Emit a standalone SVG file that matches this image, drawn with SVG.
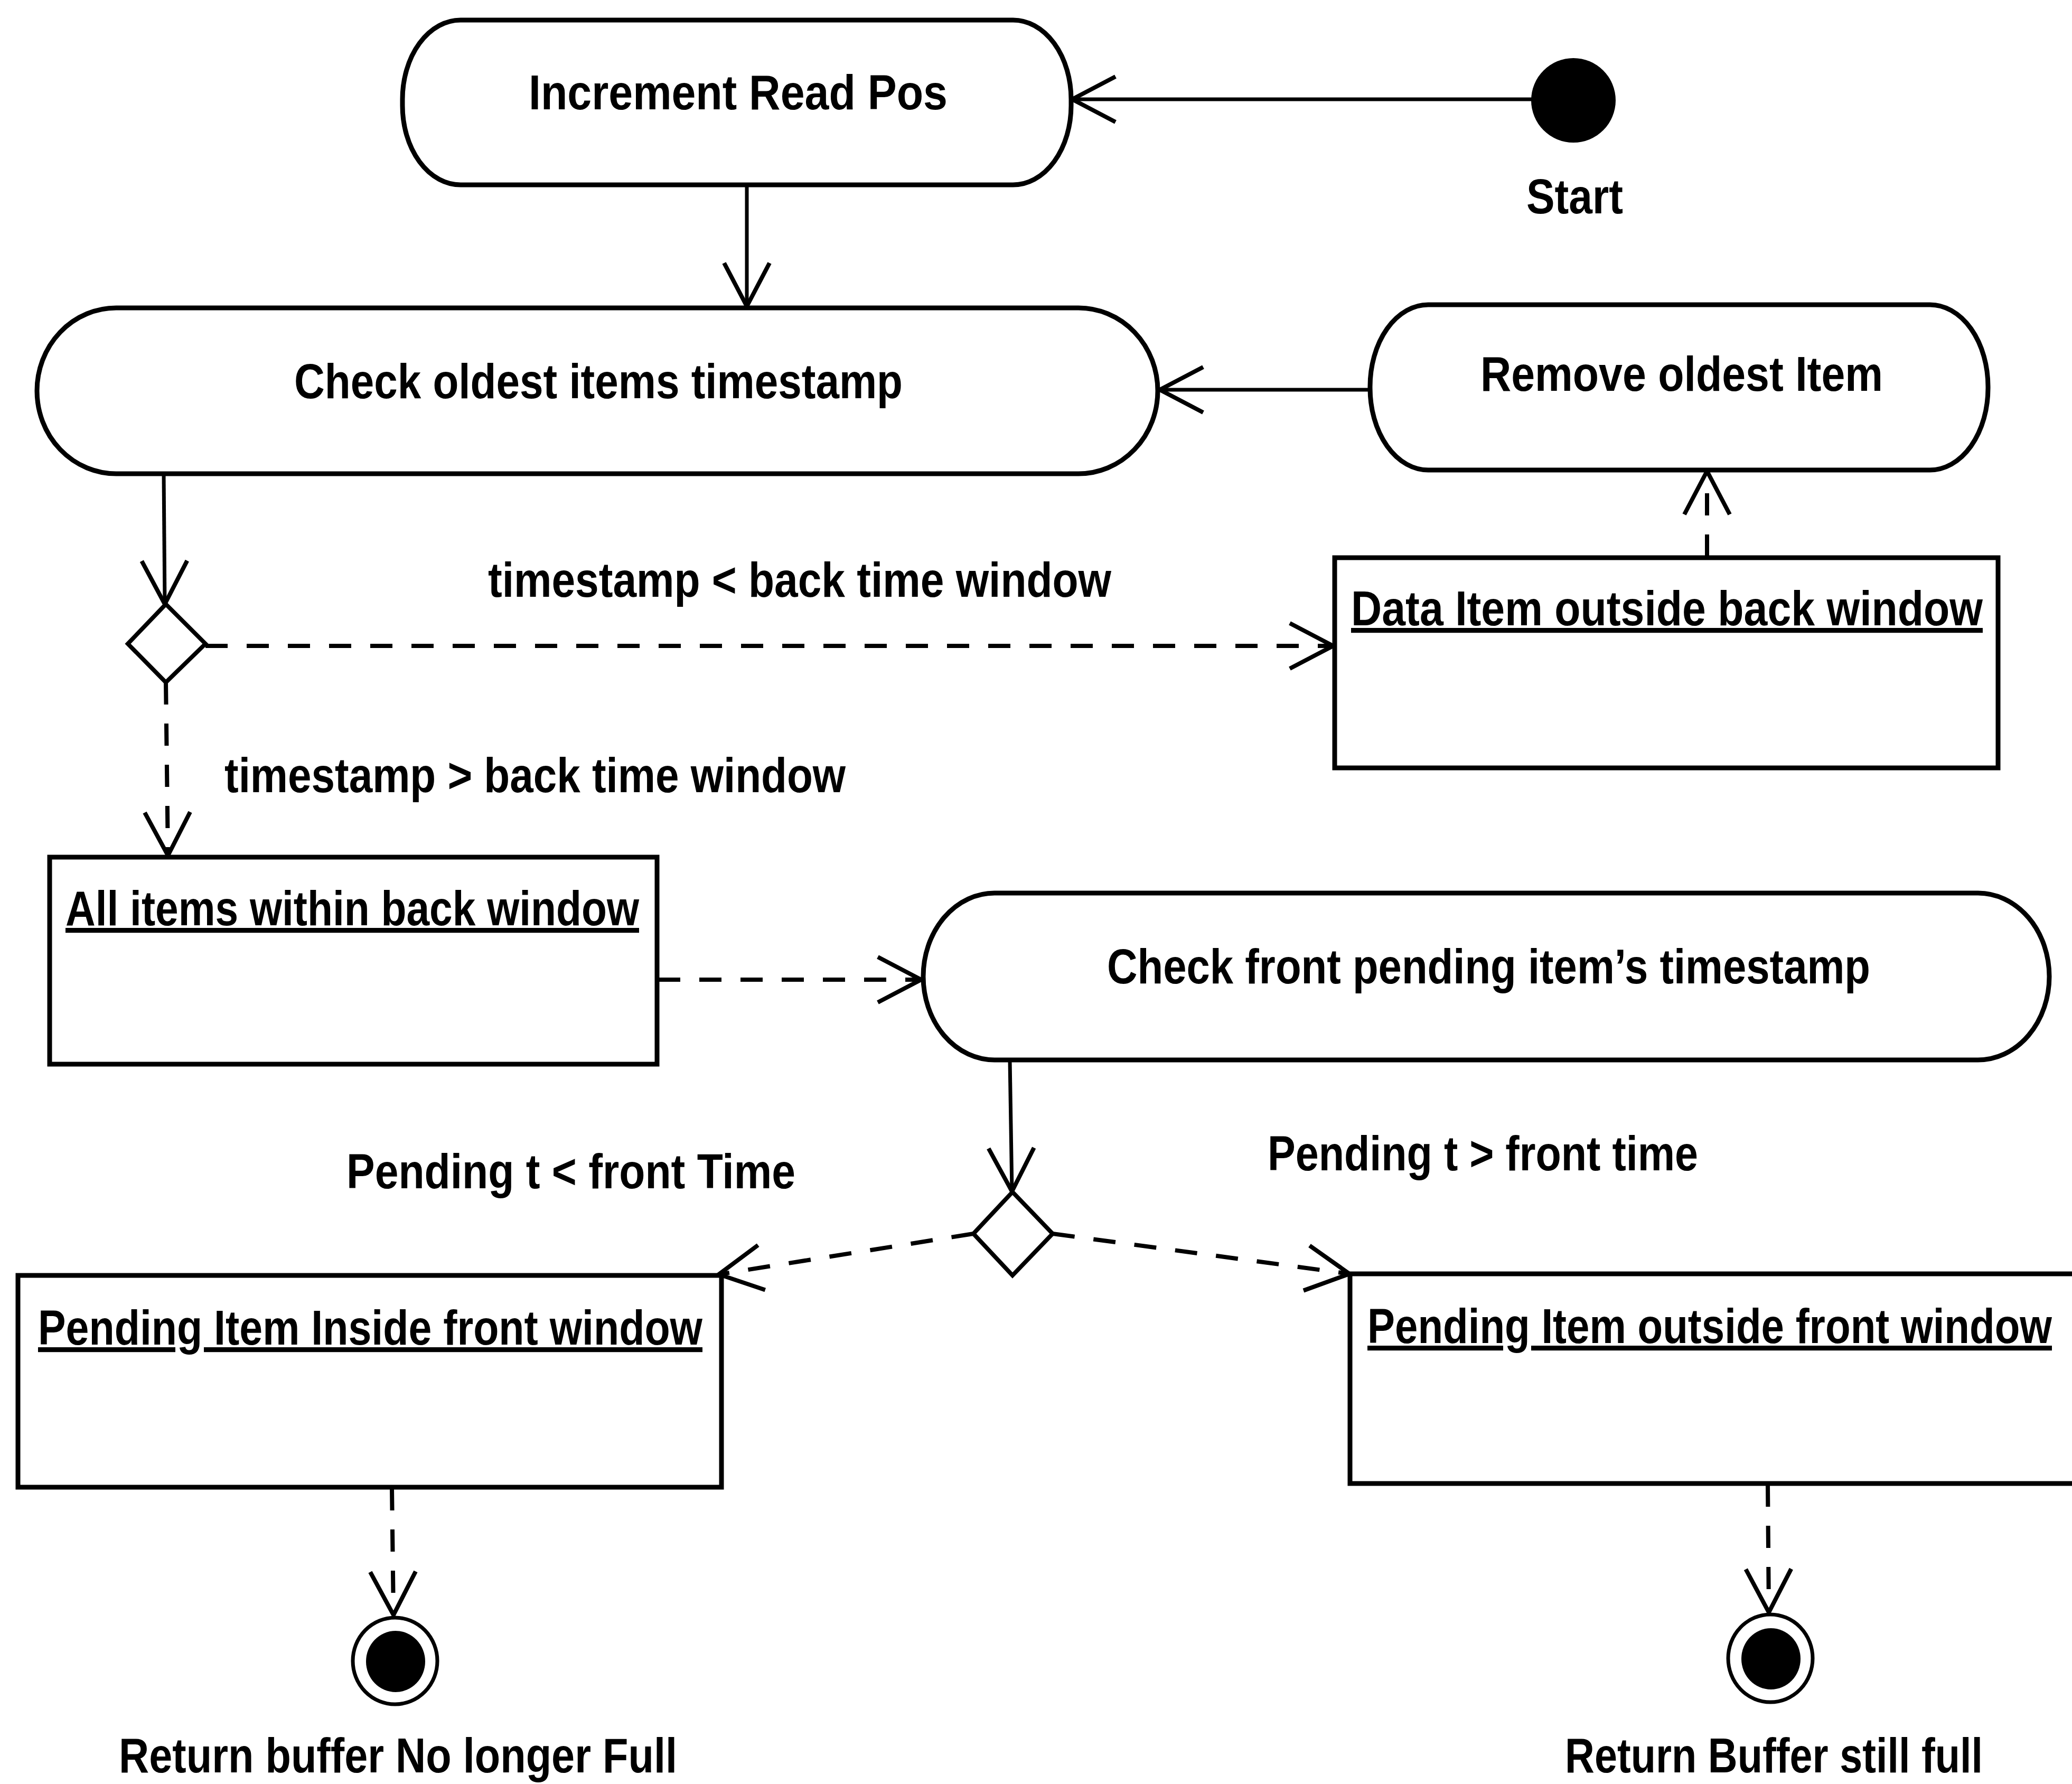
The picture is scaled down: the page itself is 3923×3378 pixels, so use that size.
<svg xmlns="http://www.w3.org/2000/svg" width="3923" height="3378" viewBox="0 0 3923 3378">
  <style>
    .bg { fill: #ffffff; }
    .action { fill: #ffffff; stroke: #000000; stroke-width: 9; }
    .object { fill: #ffffff; stroke: #000000; stroke-width: 9; }
    .decision { fill: #ffffff; stroke: #000000; stroke-width: 8; stroke-linejoin: miter; }
    .flow { fill: none; stroke: #000000; stroke-width: 7; }
    .dep { fill: none; stroke: #000000; stroke-width: 8; stroke-dasharray: 42 36; }
    .label { font-family: "Liberation Sans", Arial, sans-serif; font-weight: bold; font-size: 92px; fill: #000000; }
    .objlabel { text-decoration: underline; }
    .dot { fill: #000000; }
    .ring { fill: #ffffff; stroke: #000000; stroke-width: 7; }
  </style>
  <defs>
    <marker id="open" markerUnits="userSpaceOnUse" viewBox="-95 -55 105 110" markerWidth="105" markerHeight="110" refX="0" refY="0" orient="auto">
      <path d="M-82,-43 L0,0 L-82,43" fill="none" stroke="#000000" stroke-width="8" stroke-linejoin="miter"/>
    </marker>
  </defs>

  <rect class="bg" x="0" y="0" width="3923" height="3378"/>

  <!-- transitions and object flows -->
  <g id="connectors">
    <line class="flow" x1="2900" y1="188" x2="2030" y2="188" marker-end="url(#open)"/>
    <line class="flow" x1="1414" y1="350" x2="1414" y2="580" marker-end="url(#open)"/>
    <line class="flow" x1="2594" y1="738" x2="2196" y2="738" marker-end="url(#open)"/>
    <line class="flow" x1="310" y1="897" x2="312" y2="1144" marker-end="url(#open)"/>
    <line class="dep" x1="389" y1="1223" x2="2524" y2="1223" marker-end="url(#open)"/>
    <line class="dep" x1="3232" y1="1054" x2="3232" y2="892" marker-end="url(#open)"/>
    <line class="dep" x1="314" y1="1292" x2="318" y2="1620" marker-end="url(#open)"/>
    <line class="dep" x1="1246" y1="1855" x2="1744" y2="1855" marker-end="url(#open)"/>
    <line class="flow" x1="1912" y1="2007" x2="1916" y2="2256" marker-end="url(#open)"/>
    <line class="dep" x1="1843" y1="2336" x2="1361" y2="2413" marker-end="url(#open)"/>
    <line class="dep" x1="1993" y1="2336" x2="2555" y2="2412" marker-end="url(#open)"/>
    <line class="dep" x1="742" y1="2818" x2="745" y2="3058" marker-end="url(#open)"/>
    <line class="dep" x1="3347" y1="2811" x2="3349" y2="3053" marker-end="url(#open)"/>
  </g>

  <!-- initial node -->
  <g id="start">
    <circle class="dot" cx="2979" cy="190" r="80"/>
    <text class="label" x="2890" y="404" textLength="183" lengthAdjust="spacingAndGlyphs">Start</text>
  </g>

  <!-- action states -->
  <g id="increment-read-pos">
    <rect class="action" x="762" y="38" width="1266" height="312" rx="110" ry="150"/>
    <text class="label" x="1001" y="207" textLength="793" lengthAdjust="spacingAndGlyphs">Increment Read Pos</text>
  </g>

  <g id="check-oldest">
    <rect class="action" x="70" y="583" width="2122" height="314" rx="150" ry="157"/>
    <text class="label" x="557" y="754" textLength="1152" lengthAdjust="spacingAndGlyphs">Check oldest items timestamp</text>
  </g>

  <g id="remove-oldest">
    <rect class="action" x="2594" y="577" width="1170" height="313" rx="110" ry="155"/>
    <text class="label" x="2803" y="740" textLength="762" lengthAdjust="spacingAndGlyphs">Remove oldest Item</text>
  </g>

  <g id="check-front">
    <rect class="action" x="1748" y="1691" width="2132" height="316" rx="135" ry="158"/>
    <text class="label" x="2096" y="1862" textLength="1445" lengthAdjust="spacingAndGlyphs">Check front pending item’s timestamp</text>
  </g>

  <!-- decisions -->
  <g id="decision-back">
    <polygon class="decision" points="314,1144 389,1219 314,1292 242,1219"/>
  </g>

  <g id="decision-front">
    <polygon class="decision" points="1917,2257 1993,2336 1917,2415 1843,2336"/>
  </g>

  <!-- guard labels -->
  <g id="guard-back-less">
    <text class="label" x="924" y="1130" textLength="1180" lengthAdjust="spacingAndGlyphs">timestamp &lt; back time window</text>
  </g>
  <g id="guard-back-greater">
    <text class="label" x="425" y="1500" textLength="1176" lengthAdjust="spacingAndGlyphs">timestamp &gt; back time window</text>
  </g>
  <g id="guard-front-less">
    <text class="label" x="656" y="2250" textLength="850" lengthAdjust="spacingAndGlyphs">Pending t &lt; front Time</text>
  </g>
  <g id="guard-front-greater">
    <text class="label" x="2400" y="2216" textLength="815" lengthAdjust="spacingAndGlyphs">Pending t &gt; front time</text>
  </g>

  <!-- object nodes -->
  <g id="data-item-outside">
    <rect class="object" x="2527" y="1056" width="1256" height="398"/>
    <text class="label objlabel" x="2558" y="1184" textLength="1196" lengthAdjust="spacingAndGlyphs">Data Item outside back window</text>
  </g>

  <g id="all-items-within">
    <rect class="object" x="94" y="1623" width="1150" height="392"/>
    <text class="label objlabel" x="124" y="1752" textLength="1086" lengthAdjust="spacingAndGlyphs">All items within back window</text>
  </g>

  <g id="pending-inside">
    <rect class="object" x="34" y="2415" width="1332" height="401"/>
    <text class="label objlabel" x="72" y="2546" textLength="1258" lengthAdjust="spacingAndGlyphs">Pending Item Inside front window</text>
  </g>

  <g id="pending-outside">
    <rect class="object" x="2556" y="2412" width="1390" height="397"/>
    <text class="label objlabel" x="2589" y="2543" textLength="1296" lengthAdjust="spacingAndGlyphs">Pending Item outside front window</text>
  </g>

  <!-- final nodes -->
  <g id="end-not-full">
    <ellipse class="ring" cx="748" cy="3145" rx="80" ry="82"/>
    <ellipse class="dot" cx="749" cy="3146" rx="56" ry="58"/>
    <text class="label" x="225" y="3356" textLength="1057" lengthAdjust="spacingAndGlyphs">Return buffer No longer Full</text>
  </g>

  <g id="end-still-full">
    <ellipse class="ring" cx="3352" cy="3140" rx="80" ry="83"/>
    <ellipse class="dot" cx="3353" cy="3141" rx="56" ry="58"/>
    <text class="label" x="2963" y="3356" textLength="791" lengthAdjust="spacingAndGlyphs">Return Buffer still full</text>
  </g>
</svg>
